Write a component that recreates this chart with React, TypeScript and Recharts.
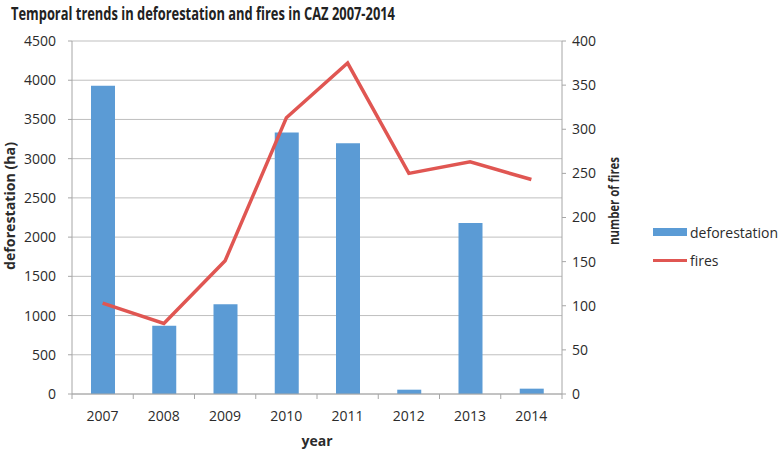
import React from 'react';
import {
  ComposedChart,
  Bar,
  Line,
  XAxis,
  YAxis,
  CartesianGrid,
  Legend,
} from 'recharts';

const years = ['2007', '2008', '2009', '2010', '2011', '2012', '2013', '2014'];
const deforestation = [3930, 871, 1145, 3335, 3195, 55, 2180, 68];
const fires = [103, 80, 151, 313, 375, 250, 263, 243];
const leftTicks = [0, 500, 1000, 1500, 2000, 2500, 3000, 3500, 4000, 4500];
const rightTicks = [0, 50, 100, 150, 200, 250, 300, 350, 400];

const data = years.map((year, i) => ({ year, deforestation: deforestation[i], fires: fires[i] }));

const BLUE = '#5b9bd5';
const RED = '#e05652';
const AXIS = '#a6a6a6';
const TEXT = '#2b2b2b';
const FONT = '"Open Sans", sans-serif';

// category ticks: label in the middle, tick marks on the band edges like Excel
function YearTick(props: any) {
  const { x, y, payload, index } = props;
  const half = 490 / years.length / 2;
  return (
    <g>
      <line x1={x - half} x2={x - half} y1={y - 8} y2={y - 3} stroke={AXIS} />
      {index === years.length - 1 && (
        <line x1={x + half} x2={x + half} y1={y - 8} y2={y - 3} stroke={AXIS} />
      )}
      <text x={x} y={y + 19} textAnchor="middle" fontSize={14} fill={TEXT} fontFamily={FONT}>
        {payload.value}
      </text>
    </g>
  );
}

function LegendBox() {
  return (
    <div style={{ fontFamily: FONT, fontSize: 14, color: TEXT }}>
      <div style={{ display: 'flex', alignItems: 'center', height: 20 }}>
        <span style={{ display: 'inline-block', width: 34, height: 8, background: BLUE, marginRight: 3 }} />
        deforestation
      </div>
      <div style={{ display: 'flex', alignItems: 'center', height: 20, marginTop: 8 }}>
        <span style={{ display: 'inline-block', width: 34, height: 3, background: RED, marginRight: 3 }} />
        fires
      </div>
    </div>
  );
}

export default function App() {
  return (
    <div style={{ position: 'absolute', left: 0, top: 0, width: 782, height: 451, background: '#fff' }}>
      <ComposedChart
        width={782}
        height={451}
        data={data}
        margin={{ top: 41, right: 160, left: 0, bottom: 0 }}
        style={{ position: 'absolute', left: 0, top: 0 }}
      >
        <CartesianGrid yAxisId="left" vertical={false} stroke="#bfbfbf" />
        <XAxis
          dataKey="year"
          height={57}
          interval={0}
          axisLine={{ stroke: AXIS }}
          tickLine={false}
          tick={<YearTick />}
          label={{
            content: () => (
              <text x={317} y={446} textAnchor="middle" fontSize={14} fontWeight={700} fill={TEXT} fontFamily={FONT}>
                year
              </text>
            ),
          }}
        />
        <YAxis
          yAxisId="left"
          width={72}
          domain={[0, 4500]}
          ticks={leftTicks}
          interval={0}
          axisLine={{ stroke: AXIS }}
          tickLine={{ stroke: AXIS }}
          tickSize={4}
          tickMargin={12}
          tick={{ fontSize: 14, fill: TEXT, fontFamily: FONT }}
          label={{
            content: () => (
              <text
                x={15}
                y={206}
                transform="rotate(-90 15 206)"
                textAnchor="middle"
                fontSize={15}
                fontWeight={700}
                fill={TEXT}
                fontFamily={FONT}
                textLength={128}
                lengthAdjust="spacingAndGlyphs"
              >
                deforestation (ha)
              </text>
            ),
          }}
        />
        <YAxis
          yAxisId="right"
          orientation="right"
          width={60}
          domain={[0, 400]}
          ticks={rightTicks}
          interval={0}
          axisLine={{ stroke: AXIS }}
          tickLine={{ stroke: AXIS }}
          tickSize={4}
          tickMargin={6}
          tick={{ fontSize: 14, fill: TEXT, fontFamily: FONT }}
          label={{
            content: () => (
              <text
                x={619}
                y={201}
                transform="rotate(-90 619 201)"
                textAnchor="middle"
                fontSize={15}
                fontWeight={700}
                fill={TEXT}
                fontFamily={FONT}
                textLength={88}
                lengthAdjust="spacingAndGlyphs"
              >
                number of fires
              </text>
            ),
          }}
        />
        <Bar yAxisId="left" dataKey="deforestation" fill={BLUE} barSize={24} isAnimationActive={false} />
        <Line
          yAxisId="right"
          type="linear"
          dataKey="fires"
          stroke={RED}
          strokeWidth={3.5}
          dot={false}
          isAnimationActive={false}
        />
        <Legend
          layout="vertical"
          align="center"
          verticalAlign="middle"
          content={<LegendBox />}
          wrapperStyle={{ left: 653, top: 222, width: 129 }}
        />
      </ComposedChart>
      <svg width={782} height={34} style={{ position: 'absolute', left: 0, top: 0 }}>
        <text
          x={11}
          y={19.5}
          fontSize={18}
          fontWeight={700}
          fill="#222"
          fontFamily={FONT}
          textLength={384}
          lengthAdjust="spacingAndGlyphs"
        >
          Temporal trends in deforestation and fires in CAZ 2007-2014
        </text>
      </svg>
    </div>
  );
}
